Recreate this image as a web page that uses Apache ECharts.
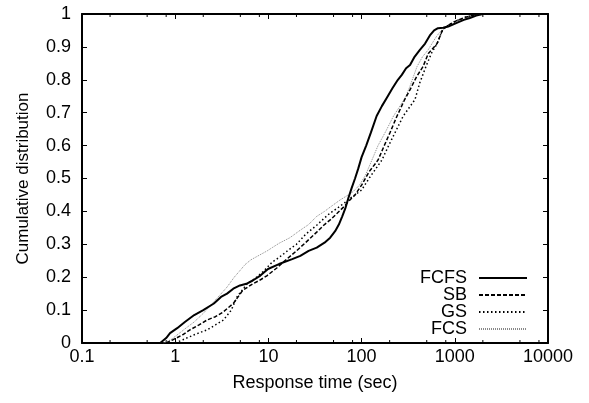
<!DOCTYPE html>
<html>
<head>
<meta charset="utf-8">
<script src="https://cdn.jsdelivr.net/npm/echarts@6/dist/echarts.min.js"></script>
<style>html,body{margin:0;padding:0;background:#fff}#c{width:589px;height:403px}</style>
</head>
<body>
<div id="c"></div>
<script>
const seriesNames = ['FCFS', 'SB', 'GS', 'FCS'];
const xTickLabels = ['0.1', '1', '10', '100', '1000', '10000'];
const minorTickValues = [0.2, 0.5, 0.8, 2, 5, 8, 20, 50, 80, 200, 500, 800, 2000, 5000, 8000];

const fcfs = [[0.69,0],[0.8,0.015],[0.88,0.03],[1.05,0.045],[1.27,0.064],[1.6,0.085],[2.0,0.10],[2.6,0.12],[3.1,0.14],[3.6,0.15],[4.2,0.165],[4.95,0.175],[5.8,0.18],[6.8,0.19],[8.2,0.205],[9.9,0.225],[13,0.24],[18,0.255],[22,0.265],[27,0.28],[33,0.29],[40,0.305],[46,0.32],[52,0.34],[57,0.36],[62,0.385],[67,0.41],[72,0.44],[78,0.47],[85,0.50],[92,0.53],[100,0.565],[112,0.6],[126,0.64],[145,0.69],[165,0.72],[186,0.745],[215,0.775],[245,0.80],[270,0.815],[300,0.835],[331,0.845],[370,0.87],[420,0.89],[480,0.91],[540,0.935],[600,0.95],[660,0.957],[750,0.958],[850,0.962],[1050,0.973],[1250,0.982],[1450,0.988],[1700,0.995],[2000,1.0],[2500,1.0]];

const sb = [[0.8,0],[0.95,0.01],[1.2,0.025],[1.44,0.04],[1.8,0.055],[2.2,0.07],[2.7,0.08],[3.26,0.094],[4.2,0.12],[5.3,0.16],[6.8,0.18],[8,0.19],[9.7,0.205],[12.3,0.228],[15,0.25],[20,0.28],[25,0.305],[33,0.337],[40,0.36],[46,0.374],[55,0.395],[65,0.415],[75,0.435],[85,0.45],[100,0.48],[120,0.52],[150,0.556],[175,0.60],[202,0.64],[240,0.69],[290,0.74],[331,0.77],[390,0.81],[456,0.84],[520,0.88],[645,0.91],[747,0.955],[900,0.97],[1050,0.98],[1300,0.99],[1600,0.997],[1900,1],[2500,1]];

const gs = [[1.0,0],[1.21,0.01],[1.6,0.025],[2.2,0.04],[2.7,0.055],[3.3,0.07],[4.0,0.1],[4.6,0.14],[5.9,0.18],[7.5,0.2],[9,0.22],[11,0.246],[13,0.26],[16,0.28],[20,0.30],[25,0.33],[33,0.358],[40,0.38],[46,0.395],[55,0.41],[65,0.425],[75,0.44],[85,0.45],[100,0.465],[120,0.5],[165,0.556],[195,0.6],[229,0.64],[280,0.69],[374,0.74],[420,0.79],[490,0.84],[560,0.88],[645,0.91],[747,0.955],[900,0.97],[1050,0.98],[1300,0.99],[1600,0.997],[1800,1],[2500,1]];

const fcs = [[0.75,0],[0.9,0.01],[1.0,0.02],[1.3,0.045],[1.6,0.064],[2.0,0.09],[2.5,0.12],[3.0,0.145],[3.6,0.17],[4.3,0.2],[4.95,0.22],[5.6,0.238],[6.5,0.253],[8,0.267],[9.7,0.28],[11,0.29],[13,0.303],[17,0.32],[22,0.343],[27,0.36],[33,0.385],[40,0.40],[46,0.413],[59,0.435],[70,0.448],[81,0.46],[95,0.48],[110,0.51],[129,0.556],[150,0.60],[183,0.645],[220,0.69],[258,0.72],[293,0.745],[330,0.78],[393,0.84],[450,0.87],[515,0.89],[569,0.91],[630,0.93],[690,0.945],[850,0.962],[1050,0.975],[1400,0.99],[1740,0.997],[2200,1],[2500,1]];

const FONT = '"Liberation Sans", Arial, Helvetica, sans-serif';
const FS = 18;
const chart = echarts.init(document.getElementById('c'), null, {renderer: 'canvas'});

const baseX = {
  type: 'log', logBase: 10, min: 0.1, max: 10000,
  axisLine: {show: true, onZero: false, lineStyle: {color: '#000', width: 2}},
  axisTick: {show: true, inside: true, length: 5, lineStyle: {color: '#000', width: 1}},
  splitLine: {show: false},
  minorTick: {show: false}
};
const baseY = {
  type: 'value', min: 0, max: 1, interval: 0.1,
  axisLine: {show: true, onZero: false, lineStyle: {color: '#000', width: 2}},
  axisTick: {show: true, inside: true, length: 5, lineStyle: {color: '#000', width: 1}},
  splitLine: {show: false}
};

chart.setOption({
  animation: false,
  backgroundColor: '#fff',
  textStyle: {fontFamily: FONT},
  grid: {left: 82, right: 41, top: 14, bottom: 60, containLabel: false},
  xAxis: [
    Object.assign({}, baseX, {
      position: 'bottom',
      name: 'Response time (sec)', nameLocation: 'middle', nameGap: 31,
      nameTextStyle: {color: '#000', fontSize: FS, fontFamily: FONT},
      axisLabel: {color: '#000', fontSize: FS, fontFamily: FONT, margin: 5,
        formatter: function (v) { const i = Math.round(Math.log10(v)) + 1; return xTickLabels[i] !== undefined ? xTickLabels[i] : ''; }}
    }),
    Object.assign({}, baseX, {position: 'top', axisLabel: {show: false}})
  ],
  yAxis: [
    Object.assign({}, baseY, {
      position: 'left',
      name: 'Cumulative distribution', nameLocation: 'middle', nameGap: 50,
      nameTextStyle: {color: '#000', fontSize: 17, fontFamily: FONT},
      axisLabel: {color: '#000', fontSize: FS, fontFamily: FONT, margin: 11}
    }),
    Object.assign({}, baseY, {position: 'right', axisLabel: {show: false}})
  ],
  legend: {
    data: seriesNames,
    orient: 'vertical', align: 'right',
    right: 61, top: 269, padding: 0,
    itemWidth: 48, itemHeight: 10, itemGap: -1,
    itemStyle: {opacity: 0},
    textStyle: {color: '#000', fontSize: FS, fontFamily: FONT, padding: [0, 7, 0, 0]},
    selectedMode: false
  },
  series: [
    {name: 'FCFS', type: 'line', data: fcfs, showSymbol: false, symbol: 'none',
      lineStyle: {color: '#000', width: 2, type: 'solid'}, itemStyle: {color: '#000'}, z: 5},
    {name: 'SB', type: 'line', data: sb, showSymbol: false, symbol: 'none',
      lineStyle: {color: '#000', width: 1.5, type: [4, 2]}, itemStyle: {color: '#000'}, z: 4},
    {name: 'GS', type: 'line', data: gs, showSymbol: false, symbol: 'none',
      lineStyle: {color: '#000', width: 1.5, type: [1.5, 2.5]}, itemStyle: {color: '#000'}, z: 3},
    {name: 'FCS', type: 'line', data: fcs, showSymbol: false, symbol: 'none',
      lineStyle: {color: '#888', width: 1, type: [1, 1]}, itemStyle: {color: '#888'}, z: 2},
    {name: 'minorTicks', type: 'custom', xAxisIndex: 0, yAxisIndex: 0, silent: true, clip: false,
      data: minorTickValues.map(v => [v, 0]),
      encode: {x: 0, y: 1},
      renderItem: function (params, api) {
        const b = api.coord([api.value(0), 0]);
        const t = api.coord([api.value(0), 1]);
        return {type: 'group', children: [
          {type: 'line', shape: {x1: b[0], y1: b[1], x2: b[0], y2: b[1] - 3}, style: {stroke: '#000', lineWidth: 1}},
          {type: 'line', shape: {x1: t[0], y1: t[1], x2: t[0], y2: t[1] + 3}, style: {stroke: '#000', lineWidth: 1}}
        ]};
      }, z: 1}
  ]
});
</script>
</body>
</html>
